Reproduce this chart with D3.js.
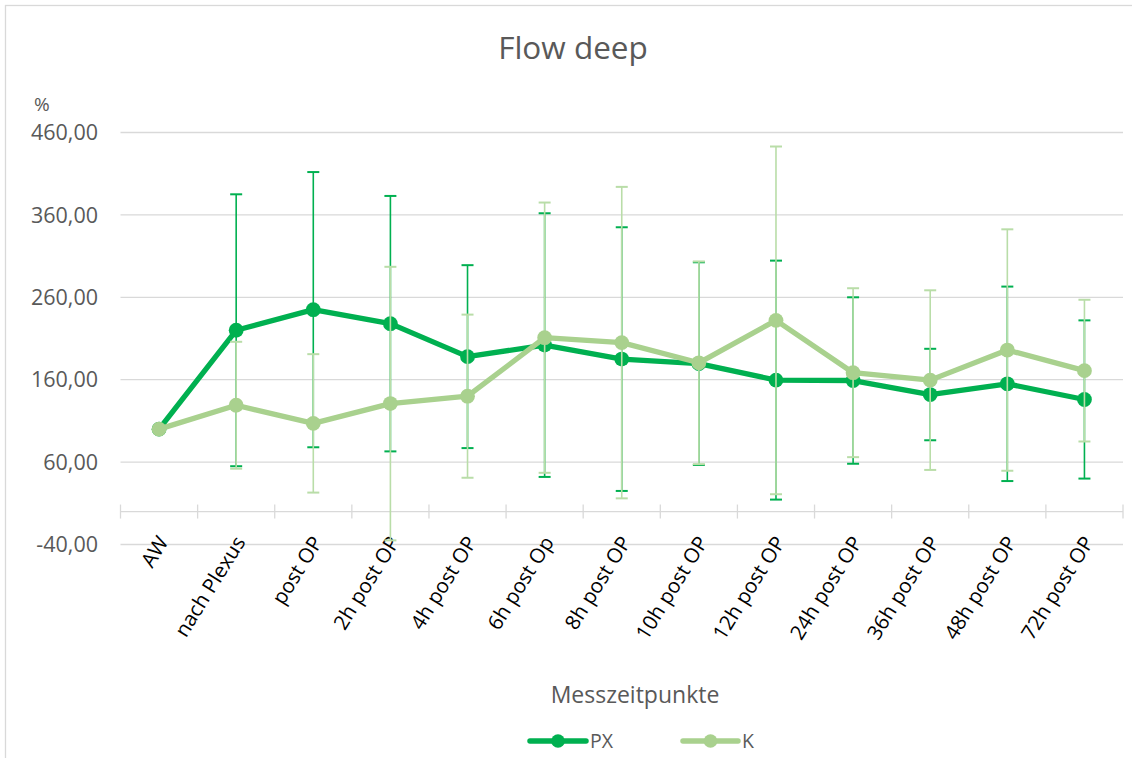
<!DOCTYPE html>
<html>
<head>
<meta charset="utf-8">
<script src="https://cdn.jsdelivr.net/npm/d3@7"></script>
<style>
  html, body { margin: 0; padding: 0; background: #fff; }
  svg { display: block; font-family: "Open Sans", sans-serif; }
</style>
</head>
<body>
<svg id="chart" width="1132" height="758"></svg>
<script>
const categories = ["AW","nach Plexus","post OP","2h post OP","4h post OP","6h post Op","8h post OP","10h post OP","12h post OP","24h post OP","36h post OP","48h post OP","72h post OP"];
const pxMean = [100, 220, 245, 228, 188, 202, 185, 179.5, 159.5, 159, 142, 155, 136];
const pxSD   = [0, 165, 167, 155, 111, 160, 160, 123, 145, 101, 55.5, 118, 96];
const kMean  = [100, 129, 107, 131, 140, 211, 205, 180.5, 232, 168.5, 159.5, 196, 171];
const kSD    = [0, 77, 84, 166, 99, 164, 189, 123, 211, 102.5, 109, 146.5, 86];
const yTicks = [-40, 60, 160, 260, 360, 460];
const seriesNames = ["PX", "K"];

const svg = d3.select("#chart");
const left = 120.5, right = 1123;

// outer border
svg.append("rect").attr("x", 5.5).attr("y", 5.5).attr("width", 1140).attr("height", 800)
  .attr("fill", "#fff").attr("stroke", "#d9d9d9").attr("stroke-width", 1.3);

const x = d3.scaleBand().domain(categories).range([left, right]);
const y = d3.scaleLinear().domain([-40, 460]).range([544.5, 132.5]);
const fmt = v => d3.format(".2f")(v).replace(".", ",").replace("\u2212", "-");

// gridlines
svg.append("g").selectAll("line").data(yTicks).join("line")
  .attr("x1", left).attr("x2", right)
  .attr("y1", d => y(d)).attr("y2", d => y(d))
  .attr("stroke", "#d9d9d9").attr("stroke-width", 1.3);

// y axis labels
svg.append("g").selectAll("text").data(yTicks).join("text")
  .attr("x", 98).attr("y", d => y(d)).attr("dy", "0.36em")
  .attr("text-anchor", "end").attr("font-size", 21.5).attr("fill", "#595959")
  .text(fmt);
svg.append("text").attr("x", 34).attr("y", 111).attr("font-size", 19).attr("fill", "#595959").text("%");

// category axis at 0
const y0 = y(0);
svg.append("line").attr("x1", left).attr("x2", right).attr("y1", y0).attr("y2", y0)
  .attr("stroke", "#d9d9d9").attr("stroke-width", 1.3);
const bounds = categories.map(c => x(c)).concat([right]);
svg.append("g").selectAll("line").data(bounds).join("line")
  .attr("x1", d => d).attr("x2", d => d).attr("y1", y0 - 7).attr("y2", y0 + 7)
  .attr("stroke", "#d9d9d9").attr("stroke-width", 1.3);

// x labels
svg.append("g").selectAll("text").data(categories).join("text")
  .attr("transform", d => `translate(${x(d) + x.bandwidth() / 2 + 10},${542}) rotate(-58)`)
  .attr("text-anchor", "end").attr("font-size", 20.5).attr("fill", "#000")
  .text(d => d);

// title & axis title
svg.append("text").attr("x", 573).attr("y", 59).attr("text-anchor", "middle")
  .attr("font-size", 31.5).attr("fill", "#595959").text("Flow deep");
svg.append("text").attr("x", 635).attr("y", 703).attr("text-anchor", "middle")
  .attr("font-size", 23).attr("fill", "#595959").text("Messzeitpunkte");

const cx = d => x(d) + x.bandwidth() / 2;

function drawSeries(means, sds, lineColor, errColor) {
  const data = categories.map((c, i) => ({ c, m: means[i], s: sds[i] }));
  const g = svg.append("g");
  const eb = data.filter(d => d.s > 0);
  const capW = 6;
  g.selectAll(".ev").data(eb).join("line")
    .attr("x1", d => cx(d.c)).attr("x2", d => cx(d.c))
    .attr("y1", d => y(d.m + d.s)).attr("y2", d => y(d.m - d.s))
    .attr("stroke", errColor).attr("stroke-width", 1.6);
  ["top", "bot"].forEach(k => {
    g.selectAll(".cap" + k).data(eb).join("line")
      .attr("x1", d => cx(d.c) - capW).attr("x2", d => cx(d.c) + capW)
      .attr("y1", d => y(k === "top" ? d.m + d.s : d.m - d.s))
      .attr("y2", d => y(k === "top" ? d.m + d.s : d.m - d.s))
      .attr("stroke", errColor).attr("stroke-width", 2);
  });
  const line = d3.line().x(d => cx(d.c)).y(d => y(d.m));
  g.append("path").datum(data).attr("d", line).attr("fill", "none")
    .attr("stroke", lineColor).attr("stroke-width", 5.3).attr("stroke-linejoin", "round").attr("stroke-linecap", "round");
  g.selectAll("circle").data(data).join("circle")
    .attr("cx", d => cx(d.c)).attr("cy", d => y(d.m)).attr("r", 7.4)
    .attr("fill", lineColor);
}

drawSeries(pxMean, pxSD, "#00B050", "#00B050");
drawSeries(kMean, kSD, "#A9D18E", "#B9DDA8");

// legend
const legend = [
  { name: seriesNames[0], color: "#00B050", x1: 530, x2: 586 },
  { name: seriesNames[1], color: "#A9D18E", x1: 683, x2: 738 }
];
const lg = svg.append("g");
legend.forEach(l => {
  lg.append("line").attr("x1", l.x1).attr("x2", l.x2).attr("y1", 741).attr("y2", 741)
    .attr("stroke", l.color).attr("stroke-width", 5.5).attr("stroke-linecap", "round");
  lg.append("circle").attr("cx", (l.x1 + l.x2) / 2).attr("cy", 741).attr("r", 6.8).attr("fill", l.color);
  lg.append("text").attr("x", l.x2 + 4).attr("y", 748).attr("font-size", 19.5).attr("fill", "#595959").text(l.name);
});
</script>
</body>
</html>
